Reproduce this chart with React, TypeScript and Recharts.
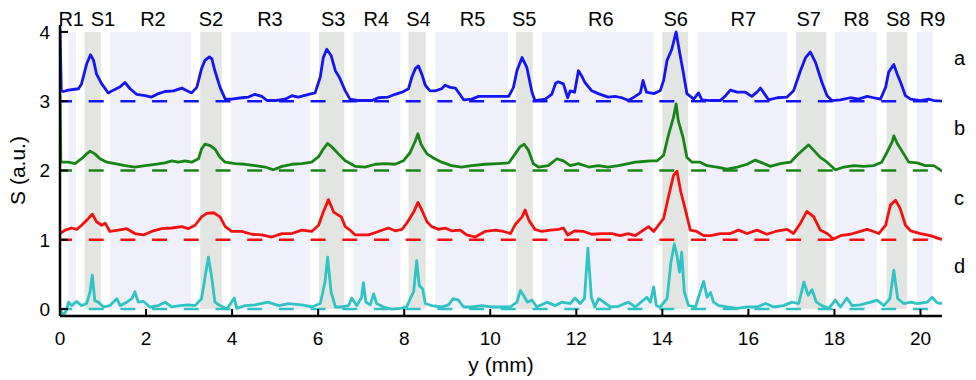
import React from 'react';
import { LineChart, Line, XAxis, YAxis, ReferenceArea, ReferenceLine, ReferenceDot, Label } from 'recharts';

// Region bands (mm)
const regionNames = ['R1', 'S1', 'R2', 'S2', 'R3', 'S3', 'R4', 'S4', 'R5', 'S5', 'R6', 'S6', 'R7', 'S7', 'R8', 'S8', 'R9'];
const regionStart = [0.19, 0.57, 1.16, 3.26, 3.98, 6.02, 6.82, 8.10, 8.72, 10.6, 11.2, 14.0, 14.82, 17.11, 18.0, 19.21, 19.91];
const regionEnd = [0.37, 0.95, 3.05, 3.76, 5.81, 6.61, 7.91, 8.5, 10.41, 10.99, 13.8, 14.6, 16.9, 17.81, 18.99, 19.69, 20.29];
const regionLabelX = [0.26, 1.0, 2.16, 3.51, 4.88, 6.35, 7.35, 8.33, 9.59, 10.79, 12.57, 14.31, 15.88, 17.4, 18.51, 19.48, 20.28];

const xTicks = [0, 2, 4, 6, 8, 10, 12, 14, 16, 18, 20];
const yTicks = [0, 1, 2, 3, 4];

const seriesNames = ['a', 'b', 'c', 'd'];
const baselines = [3, 2, 1, 0];
const sideLabelY = [3.62, 2.61, 1.6, 0.62];

const seriesA: [number, number][] = [
  [0, 4.05], [0.03, 3.15], [0.08, 3.14], [0.19, 3.16], [0.43, 3.18], [0.5, 3.25], [0.62, 3.54], [0.71, 3.67], [0.78, 3.59], [0.85, 3.39], [0.97, 3.25], [1.12, 3.12], [1.24, 3.16], [1.4, 3.21], [1.51, 3.27], [1.63, 3.18], [1.78, 3.1], [1.98, 3.08], [2.13, 3.06], [2.29, 3.11], [2.44, 3.14], [2.64, 3.15], [2.83, 3.19], [2.95, 3.15], [3.06, 3.12], [3.18, 3.2], [3.29, 3.47], [3.37, 3.59], [3.47, 3.64], [3.53, 3.61], [3.6, 3.44], [3.72, 3.2], [3.84, 3.03], [3.99, 3.03], [4.22, 3.05], [4.38, 3.06], [4.53, 3.1], [4.69, 3.07], [4.81, 3.01], [5.0, 3.01], [5.23, 3.03], [5.39, 3.08], [5.54, 3.06], [5.78, 3.1], [5.93, 3.12], [6.05, 3.35], [6.12, 3.63], [6.2, 3.75], [6.3, 3.66], [6.4, 3.44], [6.49, 3.35], [6.63, 3.15], [6.74, 3.03], [6.94, 3.01], [7.25, 3.01], [7.4, 3.05], [7.63, 3.06], [7.79, 3.1], [7.95, 3.13], [8.1, 3.18], [8.18, 3.35], [8.26, 3.47], [8.33, 3.51], [8.41, 3.39], [8.49, 3.23], [8.6, 3.15], [8.72, 3.15], [8.87, 3.18], [8.95, 3.23], [9.07, 3.2], [9.19, 3.19], [9.26, 3.13], [9.38, 3.02], [9.57, 3.03], [9.73, 3.07], [9.96, 3.07], [10.19, 3.07], [10.43, 3.07], [10.54, 3.2], [10.62, 3.44], [10.74, 3.63], [10.85, 3.49], [10.97, 3.13], [11.04, 3.01], [11.28, 3.03], [11.43, 3.1], [11.52, 3.26], [11.58, 3.28], [11.7, 3.25], [11.8, 3.05], [11.86, 3.15], [11.96, 3.13], [12.05, 3.44], [12.13, 3.36], [12.2, 3.27], [12.36, 3.15], [12.51, 3.11], [12.74, 3.06], [12.9, 3.07], [13.06, 3.05], [13.21, 3.01], [13.37, 3.07], [13.49, 3.12], [13.55, 3.3], [13.63, 3.13], [13.8, 3.11], [13.95, 3.15], [14.03, 3.3], [14.11, 3.59], [14.22, 3.75], [14.32, 4.0], [14.4, 3.71], [14.48, 3.44], [14.57, 3.11], [14.73, 3.03], [14.84, 3.12], [14.92, 3.02], [15.12, 3.01], [15.35, 3.01], [15.47, 3.08], [15.58, 3.16], [15.74, 3.13], [15.93, 3.13], [16.08, 3.07], [16.2, 3.13], [16.28, 3.19], [16.37, 3.11], [16.47, 3.02], [16.67, 3.05], [16.9, 3.06], [17.05, 3.15], [17.21, 3.44], [17.33, 3.63], [17.44, 3.71], [17.56, 3.56], [17.71, 3.27], [17.83, 3.08], [17.94, 3.01], [18.14, 3.02], [18.37, 3.05], [18.56, 3.03], [18.76, 3.07], [18.91, 3.05], [19.07, 3.03], [19.19, 3.2], [19.26, 3.42], [19.38, 3.53], [19.46, 3.39], [19.54, 3.27], [19.65, 3.08], [19.77, 3.03], [20.0, 3.01], [20.19, 3.03], [20.31, 3.01], [20.5, 3.0],
];

const seriesB: [number, number][] = [
  [0, 3.1], [0.02, 2.12], [0.19, 2.12], [0.35, 2.1], [0.5, 2.17], [0.62, 2.24], [0.7, 2.28], [0.81, 2.24], [0.93, 2.17], [1.09, 2.12], [1.28, 2.1], [1.51, 2.07], [1.74, 2.05], [1.98, 2.07], [2.21, 2.09], [2.44, 2.11], [2.6, 2.14], [2.75, 2.12], [2.91, 2.14], [3.06, 2.12], [3.22, 2.17], [3.29, 2.31], [3.37, 2.38], [3.49, 2.36], [3.6, 2.31], [3.72, 2.19], [3.84, 2.12], [4.07, 2.1], [4.3, 2.09], [4.53, 2.07], [4.77, 2.05], [4.96, 2.01], [5.16, 2.06], [5.39, 2.09], [5.62, 2.1], [5.85, 2.12], [6.01, 2.2], [6.12, 2.31], [6.22, 2.39], [6.32, 2.34], [6.47, 2.24], [6.63, 2.14], [6.78, 2.09], [6.86, 2.06], [7.09, 2.05], [7.33, 2.09], [7.56, 2.1], [7.79, 2.09], [7.98, 2.14], [8.14, 2.26], [8.26, 2.43], [8.32, 2.53], [8.39, 2.38], [8.53, 2.24], [8.68, 2.18], [8.87, 2.12], [9.1, 2.07], [9.33, 2.05], [9.57, 2.07], [9.88, 2.09], [10.19, 2.1], [10.43, 2.11], [10.58, 2.24], [10.69, 2.34], [10.79, 2.38], [10.89, 2.29], [11.0, 2.1], [11.12, 2.05], [11.35, 2.07], [11.55, 2.17], [11.7, 2.14], [11.86, 2.07], [12.05, 2.1], [12.29, 2.05], [12.51, 2.07], [12.74, 2.05], [12.98, 2.07], [13.21, 2.1], [13.37, 2.12], [13.56, 2.13], [13.72, 2.14], [13.88, 2.14], [14.03, 2.22], [14.15, 2.53], [14.26, 2.77], [14.32, 2.96], [14.37, 2.72], [14.48, 2.48], [14.57, 2.19], [14.69, 2.12], [14.88, 2.12], [15.04, 2.07], [15.27, 2.05], [15.5, 2.02], [15.74, 2.05], [15.97, 2.09], [16.16, 2.15], [16.32, 2.11], [16.51, 2.06], [16.74, 2.1], [16.98, 2.12], [17.13, 2.22], [17.29, 2.31], [17.4, 2.37], [17.52, 2.29], [17.67, 2.19], [17.83, 2.12], [18.02, 2.01], [18.22, 2.05], [18.45, 2.07], [18.68, 2.06], [18.91, 2.07], [19.1, 2.12], [19.22, 2.26], [19.34, 2.41], [19.38, 2.5], [19.46, 2.39], [19.61, 2.24], [19.73, 2.12], [19.92, 2.11], [20.11, 2.07], [20.31, 2.07], [20.5, 1.99],
];

const seriesC: [number, number][] = [
  [0, 1.09], [0.12, 1.14], [0.27, 1.17], [0.39, 1.15], [0.5, 1.21], [0.62, 1.28], [0.75, 1.37], [0.85, 1.26], [0.97, 1.21], [1.05, 1.24], [1.16, 1.12], [1.36, 1.14], [1.55, 1.16], [1.74, 1.09], [1.94, 1.07], [2.13, 1.12], [2.36, 1.16], [2.6, 1.17], [2.83, 1.19], [2.98, 1.16], [3.14, 1.21], [3.29, 1.33], [3.41, 1.38], [3.57, 1.39], [3.72, 1.33], [3.84, 1.19], [3.99, 1.12], [4.22, 1.12], [4.46, 1.08], [4.69, 1.07], [4.92, 1.04], [5.16, 1.09], [5.39, 1.09], [5.62, 1.14], [5.85, 1.12], [6.01, 1.21], [6.12, 1.4], [6.24, 1.58], [6.36, 1.4], [6.46, 1.36], [6.54, 1.33], [6.63, 1.19], [6.74, 1.14], [6.86, 1.07], [7.17, 1.07], [7.4, 1.12], [7.63, 1.17], [7.79, 1.13], [7.95, 1.15], [8.06, 1.24], [8.22, 1.4], [8.32, 1.54], [8.41, 1.43], [8.53, 1.26], [8.64, 1.19], [8.8, 1.15], [8.95, 1.17], [9.1, 1.13], [9.3, 1.14], [9.45, 1.07], [9.65, 1.04], [9.88, 1.12], [10.12, 1.14], [10.31, 1.12], [10.47, 1.09], [10.58, 1.22], [10.74, 1.33], [10.81, 1.43], [10.9, 1.28], [11.04, 1.15], [11.2, 1.12], [11.4, 1.14], [11.59, 1.15], [11.7, 1.17], [11.8, 1.07], [11.97, 1.13], [12.17, 1.12], [12.36, 1.08], [12.59, 1.09], [12.83, 1.09], [13.02, 1.06], [13.21, 1.09], [13.37, 1.06], [13.56, 1.14], [13.68, 1.19], [13.8, 1.12], [13.91, 1.21], [14.03, 1.31], [14.15, 1.64], [14.26, 1.93], [14.34, 1.99], [14.43, 1.69], [14.53, 1.45], [14.65, 1.14], [14.8, 1.12], [14.96, 1.06], [15.12, 1.06], [15.35, 1.09], [15.58, 1.09], [15.77, 1.14], [15.97, 1.09], [16.2, 1.14], [16.43, 1.08], [16.63, 1.12], [16.9, 1.15], [17.05, 1.09], [17.21, 1.24], [17.36, 1.41], [17.52, 1.33], [17.67, 1.14], [17.83, 1.09], [17.98, 1.01], [18.14, 1.06], [18.37, 1.08], [18.6, 1.12], [18.76, 1.15], [18.91, 1.12], [19.03, 1.09], [19.19, 1.21], [19.3, 1.5], [19.42, 1.57], [19.53, 1.45], [19.65, 1.21], [19.77, 1.13], [20.0, 1.09], [20.23, 1.06], [20.47, 1.01], [20.5, 1.0],
];

const seriesD: [number, number][] = [
  [0, 0.0], [0.08, -0.09], [0.15, -0.02], [0.2, 0.1], [0.27, 0.05], [0.39, 0.11], [0.5, 0.05], [0.62, 0.08], [0.7, 0.25], [0.75, 0.49], [0.81, 0.12], [0.89, 0.1], [1.01, 0.03], [1.16, 0.05], [1.32, 0.15], [1.4, 0.05], [1.55, 0.1], [1.67, 0.15], [1.74, 0.25], [1.82, 0.1], [1.94, 0.11], [2.09, 0.03], [2.29, 0.05], [2.44, 0.1], [2.6, 0.03], [2.79, 0.05], [2.98, 0.06], [3.14, 0.05], [3.29, 0.15], [3.39, 0.53], [3.45, 0.75], [3.53, 0.44], [3.6, 0.1], [3.72, 0.05], [3.88, 0.0], [4.05, 0.16], [4.11, 0.01], [4.3, 0.05], [4.53, 0.06], [4.84, 0.1], [5.08, 0.05], [5.31, 0.08], [5.62, 0.06], [5.85, 0.03], [6.05, 0.08], [6.16, 0.39], [6.22, 0.75], [6.3, 0.25], [6.4, 0.03], [6.55, 0.03], [6.71, 0.05], [6.78, 0.16], [6.9, 0.05], [7.01, 0.17], [7.05, 0.38], [7.11, 0.1], [7.21, 0.06], [7.29, 0.22], [7.36, 0.08], [7.52, 0.03], [7.71, 0.0], [7.91, 0.01], [8.06, 0.03], [8.14, 0.15], [8.22, 0.25], [8.29, 0.7], [8.35, 0.34], [8.43, 0.29], [8.49, 0.08], [8.64, 0.05], [8.87, 0.03], [9.03, 0.06], [9.14, 0.15], [9.26, 0.13], [9.38, 0.03], [9.57, 0.03], [9.8, 0.05], [10.03, 0.03], [10.26, 0.03], [10.47, 0.03], [10.62, 0.1], [10.7, 0.27], [10.77, 0.2], [10.87, 0.1], [10.97, 0.13], [11.08, 0.03], [11.32, 0.1], [11.51, 0.05], [11.66, 0.1], [11.86, 0.08], [11.97, 0.16], [12.09, 0.08], [12.19, 0.15], [12.27, 0.88], [12.35, 0.17], [12.43, 0.03], [12.52, 0.15], [12.64, 0.1], [12.79, 0.03], [12.98, 0.04], [13.21, 0.1], [13.37, 0.03], [13.56, 0.13], [13.64, 0.17], [13.72, 0.1], [13.8, 0.32], [13.86, 0.05], [13.95, 0.03], [14.11, 0.15], [14.2, 0.68], [14.28, 0.94], [14.34, 0.77], [14.4, 0.53], [14.45, 0.82], [14.51, 0.25], [14.61, 0.05], [14.77, 0.03], [14.88, 0.25], [14.96, 0.4], [15.04, 0.17], [15.12, 0.24], [15.19, 0.1], [15.31, 0.05], [15.5, 0.03], [15.74, 0.01], [15.97, 0.03], [16.2, 0.03], [16.4, 0.08], [16.59, 0.03], [16.82, 0.05], [17.01, 0.1], [17.17, 0.08], [17.29, 0.39], [17.39, 0.2], [17.48, 0.28], [17.58, 0.1], [17.71, 0.05], [17.87, 0.01], [18.02, 0.13], [18.14, 0.03], [18.29, 0.16], [18.41, 0.05], [18.6, 0.06], [18.84, 0.1], [18.99, 0.13], [19.15, 0.05], [19.29, 0.15], [19.38, 0.56], [19.47, 0.15], [19.61, 0.08], [19.77, 0.1], [19.92, 0.08], [20.16, 0.1], [20.27, 0.17], [20.39, 0.09], [20.5, 0.08],
];

const allSeries = [seriesA, seriesB, seriesC, seriesD];
const colors = ['#1414f5', '#168516', '#f51010', '#30c3c3'];
const FONT = '"Liberation Sans", Arial, sans-serif';

const toRows = (s: [number, number][]) => s.map(([y, v]) => ({ y, v }));

const XTick = (props: any) => {
  const { x, y, payload } = props;
  return (
    <g>
      <line x1={x} x2={x} y1={y} y2={y - 7} stroke="#000" strokeWidth={2} />
      <text x={x} y={y + 29} textAnchor="middle" fontSize={19} fontFamily={FONT} fill="#000">{payload.value}</text>
    </g>
  );
};

const YTick = (props: any) => {
  const { x, y, payload } = props;
  return (
    <g>
      <line x1={x} x2={x + 8} y1={y} y2={y} stroke="#000" strokeWidth={2} />
      <text x={x - 10} y={y} dy="0.36em" textAnchor="end" fontSize={19} fontFamily={FONT} fill="#000">{payload.value}</text>
    </g>
  );
};

const YTitle = (props: any) => {
  const vb = props.viewBox;
  const cx = vb.x + 17;
  const cy = vb.y + vb.height / 2;
  return (
    <text x={cx} y={cy} transform={`rotate(-90 ${cx} ${cy})`} textAnchor="middle" dy="0.36em" fontSize={21} fontFamily={FONT} fill="#000">S (a.u.)</text>
  );
};

export default function App() {
  return (
    <div style={{ position: 'absolute', left: 0, top: 0, width: 976, height: 380, background: '#ffffff' }}>
      <LineChart width={976} height={380} margin={{ top: 25, right: 34, bottom: 24, left: 0 }}>
        <XAxis
          type="number"
          dataKey="y"
          domain={[0, 20.5]}
          ticks={xTicks}
          allowDataOverflow
          height={40}
          tickSize={0}
          tickMargin={0}
          tickLine={false}
          tick={<XTick />}
          axisLine={{ stroke: '#000', strokeWidth: 2.5 }}
        >
          <Label value="y (mm)" position="bottom" offset={1} fontSize={21} fontFamily={FONT} fill="#000" />
        </XAxis>
        <YAxis
          type="number"
          domain={[-0.1, 4.1]}
          ticks={yTicks}
          allowDataOverflow
          width={60}
          tickSize={0}
          tickMargin={0}
          tickLine={false}
          tick={<YTick />}
          axisLine={{ stroke: '#000', strokeWidth: 2.5 }}
        >
          <Label content={<YTitle />} />
        </YAxis>
        {regionNames.map((n, i) => (
          <ReferenceArea
            key={n}
            x1={regionStart[i]}
            x2={regionEnd[i]}
            y1={0}
            y2={4}
            fill={n.startsWith('S') ? '#e3e5e3' : '#f0f0fa'}
            fillOpacity={1}
            stroke="none"
            ifOverflow="visible"
          />
        ))}
        {baselines.map((b, i) => (
          <ReferenceLine key={'bl' + i} y={b} stroke={colors[i]} strokeWidth={2.6} strokeDasharray="15 16.7" strokeDashoffset={3} />
        ))}
        {allSeries.map((s, i) => (
          <Line
            key={seriesNames[i]}
            data={toRows(s)}
            dataKey="v"
            type="linear"
            stroke={colors[i]}
            strokeWidth={2.8}
            strokeLinejoin="round"
            dot={false}
            activeDot={false}
            isAnimationActive={false}
          />
        ))}
        {regionNames.map((n, i) => (
          <ReferenceDot
            key={'lab' + n}
            x={regionLabelX[i]}
            y={4.1}
            r={0}
            fill="none"
            stroke="none"
            ifOverflow="visible"
            label={{ value: n, position: 'top', offset: -1, fontSize: 20, fontFamily: FONT, fill: '#000' }}
          />
        ))}
        {seriesNames.map((n, i) => (
          <ReferenceDot
            key={'side' + n}
            x={20.5}
            y={sideLabelY[i]}
            r={0}
            fill="none"
            stroke="none"
            ifOverflow="visible"
            label={{ value: n, position: 'right', offset: 12, fontSize: 20, fontFamily: FONT, fill: '#000' }}
          />
        ))}
      </LineChart>
    </div>
  );
}
